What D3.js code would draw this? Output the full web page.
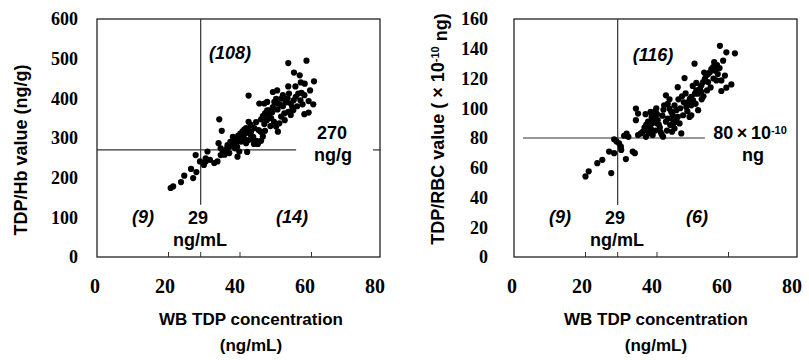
<!DOCTYPE html>
<html>
<head>
<meta charset="utf-8">
<script src="https://cdnjs.cloudflare.com/ajax/libs/d3/7.8.5/d3.min.js"></script>
<style>
  body { margin: 0; background: #fff; }
  svg { display: block; }
</style>
</head>
<body>
<div id="chart"></div>
<script>
// WB TDP concentration (ng/mL) axis
const xTicks = [0, 20, 40, 60, 80];
const xCut = 29;

// Left panel: TDP/Hb value (ng/g)
const hbTicks = [0, 100, 200, 300, 400, 500, 600];
const hbCut = 270;
const hbPoints = [
  // lower left (9)
  [20.6,174],[21.3,178],[23.5,189],[24.4,205],[26.3,222],[26.9,199],[27.8,214],[27.6,257],[28.8,241],
  // lower right (14)
  [29.9,232],[30.4,241],[30.4,249],[30.9,266],[31.6,245],[32.8,237],[33.7,241],[34.6,257],[35.7,258],
  [39.3,253],[39.8,266],[35.2,266],[37,262],[42,265],
  // upper right (108)
  [34.2,347],[34.9,318],[34,287],[34.6,274],[36.2,272],[37,278],[37.6,285],[38.2,294],[38.9,298],[39.5,306],
  [40.1,311],[40.7,317],[41.2,321],[41.7,325],[42.2,322],[38.6,274],[39.2,278],[40.3,291],[41.1,299],[41.7,287],
  [42.4,295],[42.4,341],[43,333],[43.1,316],[43.7,303],[42.4,407],[43.9,285],[44.6,293],[45,285],[45.9,293],
  [46.4,304],[45.8,316],[45.2,320],[45.9,347],[46.4,355],[47,362],[47.6,370],[48,358],[48.7,350],[49.5,341],
  [50.1,329],[50.6,316],[51,337],[51.5,354],[45.4,387],[46.8,387],[47.6,391],[48.2,370],[49.2,378],[49.6,391],
  [50.1,399],[50.6,387],[49.2,416],[50.4,420],[51.5,399],[52,408],[52.7,395],[53.3,400],[53.7,412],[53.5,430],
  [54.2,387],[54.6,378],[54.9,370],[53.5,366],[54.2,358],[52.4,362],[51.5,383],[53.5,489],[58.6,495],[55.1,465],
  [56.7,458],[58.1,437],[60.7,443],[57.2,414],[58,408],[59.6,420],[59.2,393],[60.5,385],[59.2,364],[58,360],
  [56.3,412],[56.9,395],[55.6,404],[36.5,282],[37.3,290],[38,303],[39,288],[40,300],[40.8,308],[41.5,312],
  [42.8,310],[44,325],[44.5,340],[46.8,335],[47.5,345],[48.5,330],[49,365],[50.5,372],[52,380],[53,390],
  [55,395],[56,380],[57.5,385],[55.5,430],[57,440],[52.5,345],[47,318],[43.5,298]
];

// Right panel: TDP/RBC value (x 10^-10 ng)
const rbcTicks = [0, 20, 40, 60, 80, 100, 120, 140, 160];
const rbcCut = 80;
const rbcPoints = [
  // lower left (9)
  [20,54.2],[20.9,57.6],[23.3,63.1],[24.7,65.3],[26.6,70.9],[28,69.8],[27.2,56.4],[28,79.1],[28.7,77.6],
  // lower right (6)
  [29.4,76.4],[29.9,74.2],[30,72],[31.3,65.8],[33.2,70.9],[33.8,69.8],
  // upper right (116)
  [30.8,81.5],[31.5,83],[32,80.8],[34.1,99.8],[34.7,96.4],[34.1,92],[34.7,82],[35.5,83.1],[36,84.2],[36.9,80.8],
  [37.8,83.1],[38.8,82],[36.5,87],[37,89],[37.5,91],[38,88],[38.3,86],[38.7,90],[39,93],[39.2,95],
  [39.5,98],[39.8,100],[40,96],[40.2,92],[40.5,89],[40.8,87],[41,84],[41.3,82.4],[41.7,80.9],[39.5,85],
  [40,90],[38.5,94],[37.2,85],[41.5,95],[41.8,99],[42,102],[42.5,108.7],[43,103],[43.5,99.7],[44,97.5],
  [44.4,95.3],[44.9,102],[45.4,98.7],[45.8,94.2],[45.4,90.9],[44.4,88.7],[44.9,86.4],[44.2,84.2],[46.3,89.8],[47.3,95.3],
  [48.2,100.9],[48.7,104.2],[49.2,106.4],[49.6,107.6],[50.1,105.3],[49.6,102],[50.6,109.8],[51,112],[51.5,109.8],[52,113.1],
  [52.4,115.3],[52.9,117.6],[53.4,119.8],[53.8,122],[54.3,123.1],[54.8,124.2],[55.2,126.4],[55.7,127.6],[56.2,125.3],[54.3,117.6],
  [52.4,111],[49.6,95.3],[47.7,120.3],[50.5,130],[45.8,114.2],[57.6,142],[59.4,137.6],[61.8,136.9],[58.5,132],[59,122],
  [58,118.7],[58,111.6],[59.4,113.8],[60.8,116],[56.6,118.7],[57,123],[56.8,129],[57.5,127],[46.8,83.1],[49.1,94.2],
  [51.5,98.7],[43.7,88.7],[42.5,91],[43,93],[47,108],[48,110],[50,115],[51,117],[53,108],[55,114],
  [47.5,104],[46,106],[43.5,106],[39.7,97],[38.2,97.5],[36.8,96],[46.5,100],[48.5,98],[50.8,103],[52.5,106],
  [54,112],[55.8,120],[44.5,92],[42.8,85],[53.2,124],[56,131]
];

const width = 809;
const height = 360;
const plotW = 283;
const plotH = 238;

const svg = d3.select('#chart')
  .append('svg')
  .attr('width', width)
  .attr('height', height);

const sans = "'Liberation Sans', Arial, sans-serif";
const serif = "'Times New Roman', 'Liberation Serif', 'DejaVu Serif', serif";

function drawPanel(p) {
  const g = svg.append('g').attr('transform', `translate(${p.left}, 19)`);

  const x = d3.scaleLinear().domain([0, 80]).range([0, 286]);
  const xLab = d3.scaleLinear().domain([0, 80]).range([-2, 278]);
  const y = d3.scaleLinear().domain([0, p.yMax]).range([plotH, 0]);

  // frame
  g.append('rect')
    .attr('x', 0).attr('y', 0)
    .attr('width', plotW).attr('height', plotH)
    .attr('fill', 'none')
    .attr('stroke', '#222')
    .attr('stroke-width', 1.3);

  // inner ticks on the bottom
  g.selectAll('.xtick')
    .data([20, 29, 40, 60])
    .enter()
    .append('line')
    .attr('x1', d => x(d)).attr('x2', d => x(d))
    .attr('y1', plotH).attr('y2', plotH - 5)
    .attr('stroke', '#333');

  // y tick labels
  g.selectAll('.ylab')
    .data(p.yTicks)
    .enter()
    .append('text')
    .attr('x', p.yLabX)
    .attr('y', d => y(d))
    .attr('dy', '0.35em')
    .attr('text-anchor', 'end')
    .style('font-family', serif)
    .style('font-weight', 'bold')
    .style('font-size', '18px')
    .text(d => d);

  // x tick labels
  g.selectAll('.xlab')
    .data(xTicks)
    .enter()
    .append('text')
    .attr('x', d => xLab(d))
    .attr('y', 267)
    .attr('dy', '0.35em')
    .attr('text-anchor', 'middle')
    .style('font-family', serif)
    .style('font-weight', 'bold')
    .style('font-size', '20px')
    .text(d => d);

  // cut-off lines
  g.append('line')
    .attr('x1', x(xCut)).attr('x2', x(xCut))
    .attr('y1', 0).attr('y2', y(p.vEnd))
    .attr('stroke', '#333').attr('stroke-width', 1.2);
  p.hSegs.forEach(s => {
    g.append('line')
      .attr('x1', x(s[0])).attr('x2', x(s[1]))
      .attr('y1', y(p.yCut)).attr('y2', y(p.yCut))
      .attr('stroke', '#333').attr('stroke-width', 1.2);
  });

  // points
  g.selectAll('.dot')
    .data(p.points)
    .enter()
    .append('circle')
    .attr('cx', d => x(d[0]))
    .attr('cy', d => y(d[1]))
    .attr('r', 3.1)
    .attr('fill', '#000');

  // annotations
  const ann = (tx, ty, str, italic) => g.append('text')
    .attr('x', tx).attr('y', ty)
    .attr('dy', '0.35em')
    .attr('text-anchor', 'middle')
    .style('font-family', sans)
    .style('font-weight', 'bold')
    .style('font-style', italic ? 'italic' : 'normal')
    .style('font-size', '18px')
    .text(str);

  ann(p.topCount[0], p.topCount[1], p.counts[0], true);
  ann(46, 198, p.counts[1], true);
  ann(p.lrCount, 198, p.counts[2], true);
  ann(101, 199, '29', false);
  ann(103, 221, 'ng/mL', false);
  p.cutLabel(g, ann);

  // y title
  const yt = g.append('text')
    .attr('transform', `translate(${p.yTitleX}, ${p.yTitleY}) rotate(-90)`)
    .attr('text-anchor', 'middle')
    .attr('dy', '0.35em')
    .style('font-family', sans)
    .style('font-weight', 'bold')
    .style('font-size', '18px');
  p.yTitle(yt);

  // x title
  const xt = g.append('text')
    .attr('text-anchor', 'middle')
    .style('font-family', sans)
    .style('font-weight', 'bold')
    .style('font-size', '17px');
  xt.append('tspan').attr('x', p.xTitleX).attr('y', 306).text('WB TDP concentration');
  xt.append('tspan').attr('x', p.xTitleX).attr('y', 332).text('(ng/mL)');
}

drawPanel({
  left: 97,
  yMax: 600,
  yTicks: hbTicks,
  yCut: hbCut,
  vEnd: 132,
  hSegs: [[0, 55.7], [77.2, 79.3]],
  points: hbPoints,
  counts: ['(108)', '(9)', '(14)'],
  topCount: [133, 34],
  lrCount: 195,
  yLabX: -19,
  yTitleX: -76,
  yTitleY: 131,
  xTitleX: 154,
  cutLabel: (g, ann) => {
    ann(235, 114, '270', false);
    ann(236, 136, 'ng/g', false);
  },
  yTitle: t => t.text('TDP/Hb value (ng/g)')
});

drawPanel({
  left: 514,
  yMax: 160,
  yTicks: rbcTicks,
  yCut: rbcCut,
  vEnd: 35,
  hSegs: [[2.5, 53.4]],
  points: rbcPoints,
  counts: ['(116)', '(9)', '(6)'],
  topCount: [139, 36],
  lrCount: 183,
  yLabX: -26,
  yTitleX: -76,
  yTitleY: 110,
  xTitleX: 142,
  cutLabel: (g, ann) => {
    const t = g.append('text')
      .attr('x', 236).attr('y', 114)
      .attr('dy', '0.35em')
      .attr('text-anchor', 'middle')
      .style('font-family', sans)
      .style('font-weight', 'bold')
      .style('font-size', '18px');
    t.append('tspan').text('80\u2009\u00d7\u200910');
    t.append('tspan').style('font-size', '11px').attr('dy', '-0.45em').text('-10');
    ann(239, 136, 'ng', false);
  },
  yTitle: t => {
    t.append('tspan').text('TDP/RBC value ( \u00d7 10');
    t.append('tspan').style('font-size', '11px').attr('dy', '-0.45em').text('-10');
    t.append('tspan').attr('dy', '0.45em').text(' ng)');
  }
});
</script>
</body>
</html>
